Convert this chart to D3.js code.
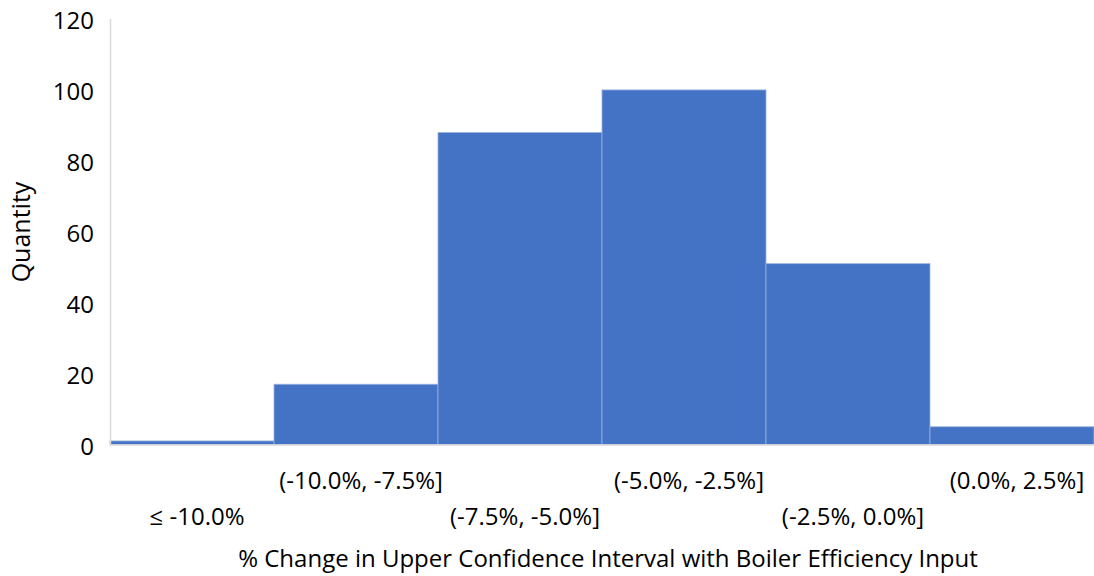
<!DOCTYPE html>
<html>
<head>
<meta charset="utf-8">
<script src="https://cdn.jsdelivr.net/npm/d3@7"></script>
<style>
  body { margin: 0; background: #fff; }
  text { font-family: "Open Sans", "Noto Sans", sans-serif; fill: #000; }
</style>
</head>
<body>
<div id="chart-area"></div>
<script>
// histogram bins and counts
var bins = ["≤ -10.0%", "(-10.0%, -7.5%]", "(-7.5%, -5.0%]", "(-5.0%, -2.5%]", "(-2.5%, 0.0%]", "(0.0%, 2.5%]"];
var counts = [1, 17, 88, 100, 51, 5];
var yTicks = [0, 20, 40, 60, 80, 100, 120];

var canvasWidth = 1094;
var canvasHeight = 576;

var svg = d3.select("#chart-area")
    .append("svg")
        .attr("width", canvasWidth)
        .attr("height", canvasHeight);

var x = d3.scaleBand()
    .domain(bins)
    .range([110, 1094])
    .padding(0);

var y = d3.scaleLinear()
    .domain([0, 120])
    .range([444.5, 19]);

// bars
svg.selectAll("rect.bar")
    .data(bins)
    .enter()
    .append("rect")
        .attr("class", "bar")
        .attr("x", d => x(d))
        .attr("y", (d, i) => y(counts[i]))
        .attr("width", x.bandwidth())
        .attr("height", (d, i) => y(0) - y(counts[i]))
        .attr("fill", "#4472c4")
        .attr("stroke", "#9db3dd")
        .attr("stroke-width", 0.8);

// axis lines
svg.append("line")
    .attr("x1", 110.5).attr("x2", 110.5)
    .attr("y1", y(120)).attr("y2", y(0) + 1)
    .attr("stroke", "#d9d9d9")
    .attr("stroke-width", 1.5);

svg.append("line")
    .attr("x1", 110).attr("x2", 1094)
    .attr("y1", y(0) + 0.5).attr("y2", y(0) + 0.5)
    .attr("stroke", "#d9d9d9")
    .attr("stroke-width", 1.5);

// y tick labels
svg.selectAll("text.ytick")
    .data(yTicks)
    .enter()
    .append("text")
        .attr("class", "ytick")
        .attr("x", 94)
        .attr("y", d => y(d) + 10)
        .attr("text-anchor", "end")
        .attr("font-size", "24px")
        .text(d => d);

// x labels, staggered on two rows
svg.selectAll("text.xtick")
    .data(bins)
    .enter()
    .append("text")
        .attr("class", "xtick")
        .attr("x", d => x(d) + x.bandwidth() / 2 + 5)
        .attr("y", (d, i) => i % 2 === 1 ? 489 : 525)
        .attr("text-anchor", "middle")
        .attr("font-size", "24px")
        .text(d => d);

// X label
svg.append("text")
    .attr("x", 608)
    .attr("y", 567)
    .attr("font-size", "24px")
    .attr("text-anchor", "middle")
    .text("% Change in Upper Confidence Interval with Boiler Efficiency Input");

// Y label
svg.append("text")
    .attr("x", -232)
    .attr("y", 30)
    .attr("font-size", "25px")
    .attr("text-anchor", "middle")
    .attr("transform", "rotate(-90)")
    .text("Quantity");
</script>
</body>
</html>
